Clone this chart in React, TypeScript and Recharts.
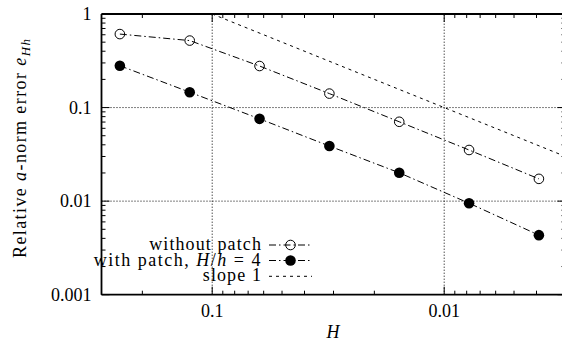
import React from 'react';
import { LineChart, Line, XAxis, YAxis, ReferenceLine, Customized } from 'recharts';

// Coarse mesh sizes H and the relative a-norm errors e_Hh
const meshSizes = [0.25, 0.125, 0.0625, 0.03125, 0.015625, 0.0078125, 0.00390625];
const errorsWithoutPatch = [0.61, 0.52, 0.278, 0.141, 0.0705, 0.0352, 0.0173];
const errorsWithPatch = [0.28, 0.146, 0.0758, 0.0388, 0.0201, 0.0095, 0.00433];

// Guide line of slope 1 (e = 10 H)
const slopeH = [0.1, 0.003];
const slopeErr = [1, 0.03];

// Axis ranges and ticks
const hDomain = [0.003, 0.3];
const errDomain = [0.001, 1];
const hMajorTicks = [0.1, 0.01];
const hMinorTicks = [
  0.3, 0.2,
  0.09, 0.08, 0.07, 0.06, 0.05, 0.04, 0.03, 0.02,
  0.009, 0.008, 0.007, 0.006, 0.005, 0.004, 0.003,
];
const errMajorTicks = [1, 0.1, 0.01, 0.001];
const errMinorTicks = [
  0.9, 0.8, 0.7, 0.6, 0.5, 0.4, 0.3, 0.2,
  0.09, 0.08, 0.07, 0.06, 0.05, 0.04, 0.03, 0.02,
  0.009, 0.008, 0.007, 0.006, 0.005, 0.004, 0.003, 0.002,
];
const gridH = [0.1, 0.01];
const gridErr = [0.1, 0.01];

const FONT = "'Liberation Serif', serif";
const FS = 18;
const MAJOR_LEN = 8;
const MINOR_LEN = 4;
const DASH_DOT = '7 3 1.5 3';
const SHORT_DASH = '3 4';
const DOTTED = '1 2';

const withoutPatchRows = meshSizes.map((H, i) => ({ H, err: errorsWithoutPatch[i] }));
const withPatchRows = meshSizes.map((H, i) => ({ H, err: errorsWithPatch[i] }));
const slopeRows = slopeH.map((H, i) => ({ H, err: slopeErr[i] }));

const hTicks = [...hMajorTicks, ...hMinorTicks];
const errTicks = [...errMajorTicks, ...errMinorTicks];

const fmt = (v: number) => String(v);
const textStyle = { fontFamily: FONT, fontSize: FS };

function BottomTick({ x, y, payload }: any) {
  const major = hMajorTicks.includes(payload.value);
  return (
    <g>
      <line x1={x} x2={x} y1={y} y2={y - (major ? MAJOR_LEN : MINOR_LEN)} stroke="#000" strokeWidth={1} />
      {major && (
        <text x={x} y={y + 22} textAnchor="middle" style={textStyle} fill="#000">
          {fmt(payload.value)}
        </text>
      )}
    </g>
  );
}

function TopTick({ x, y, payload }: any) {
  const major = hMajorTicks.includes(payload.value);
  return <line x1={x} x2={x} y1={y} y2={y + (major ? MAJOR_LEN : MINOR_LEN)} stroke="#000" strokeWidth={1} />;
}

function LeftTick({ x, y, payload }: any) {
  const major = errMajorTicks.includes(payload.value);
  return (
    <g>
      <line x1={x} x2={x + (major ? MAJOR_LEN : MINOR_LEN)} y1={y} y2={y} stroke="#000" strokeWidth={1} />
      {major && (
        <text x={x - 10} y={y + 6} textAnchor="end" style={textStyle} fill="#000">
          {fmt(payload.value)}
        </text>
      )}
    </g>
  );
}

function RightTick({ x, y, payload }: any) {
  const major = errMajorTicks.includes(payload.value);
  return <line x1={x} x2={x - (major ? MAJOR_LEN : MINOR_LEN)} y1={y} y2={y} stroke="#000" strokeWidth={1} />;
}

const OpenDot = (p: any) => (
  <circle key={`o-${p.index}`} cx={p.cx} cy={p.cy} r={4.8} fill="none" stroke="#000" strokeWidth={1} />
);
const FilledDot = (p: any) => (
  <circle key={`f-${p.index}`} cx={p.cx} cy={p.cy} r={5.3} fill="#000" stroke="none" />
);

function YTitle() {
  return (
    <text
      x={26}
      y={258}
      transform="rotate(-90 26 258)"
      textAnchor="start"
      style={{ ...textStyle, letterSpacing: 1.4 }}
      fill="#000"
    >
      Relative <tspan fontStyle="italic">a</tspan>-norm error <tspan fontStyle="italic">e</tspan>
      <tspan fontStyle="italic" fontSize={13} dy={4}>Hh</tspan>
    </text>
  );
}

function XTitle() {
  return (
    <text x={333} y={338} textAnchor="middle" style={textStyle} fontStyle="italic" fill="#000">
      H
    </text>
  );
}

// Key inside the plot, on an opaque white box
function KeyBox() {
  const textX = 262;
  const x1 = 269;
  const x2 = 312;
  const xm = 290.5;
  const rows = [245, 260.5, 276.3];
  const tp = { textAnchor: 'end' as const, fill: '#000' };
  return (
    <g>
      <rect x={107} y={235} width={210} height={51} fill="#fff" />
      <text x={textX} y={rows[0] + 5} style={{ ...textStyle, letterSpacing: 1.1 }} {...tp}>without patch</text>
      <line x1={x1} x2={x2} y1={rows[0]} y2={rows[0]} stroke="#000" strokeDasharray={DASH_DOT} />
      <circle cx={xm} cy={rows[0]} r={4.8} fill="none" stroke="#000" />
      <text x={textX} y={rows[1] + 5} style={{ ...textStyle, letterSpacing: 1.5 }} {...tp}>
        with patch, <tspan fontStyle="italic">H</tspan>/<tspan fontStyle="italic">h</tspan> = 4
      </text>
      <line x1={x1} x2={x2} y1={rows[1]} y2={rows[1]} stroke="#000" strokeDasharray={DASH_DOT} />
      <circle cx={xm} cy={rows[1]} r={5.3} fill="#000" />
      <text x={textX} y={rows[2] + 5} style={{ ...textStyle, letterSpacing: 1.1 }} {...tp}>slope 1</text>
      <line x1={x1} x2={x2} y1={rows[2]} y2={rows[2]} stroke="#000" strokeDasharray={SHORT_DASH} />
    </g>
  );
}

export default function App() {
  return (
    <div style={{ position: 'absolute', left: 0, top: 0, width: 562, height: 347, overflow: 'hidden', background: '#fff', fontFamily: FONT }}>
      <LineChart width={570} height={347} margin={{ top: 13, right: 3.5, bottom: 51.3, left: 100.5 }}>
        <XAxis
          xAxisId="b"
          dataKey="H"
          type="number"
          scale="log"
          domain={hDomain}
          allowDataOverflow
          reversed
          orientation="bottom"
          height={1}
          ticks={hTicks}
          interval={0}
          tickSize={0}
          tickMargin={0}
          tickLine={false}
          tick={BottomTick}
          axisLine={{ stroke: '#000', strokeWidth: 1.8 }}
          label={<XTitle />}
        />
        <XAxis
          xAxisId="t"
          dataKey="H"
          type="number"
          scale="log"
          domain={hDomain}
          allowDataOverflow
          reversed
          orientation="top"
          height={1}
          ticks={hTicks}
          interval={0}
          tickSize={0}
          tickMargin={0}
          tickLine={false}
          tick={TopTick}
          axisLine={{ stroke: '#000', strokeWidth: 1.8 }}
        />
        <YAxis
          yAxisId="l"
          type="number"
          scale="log"
          domain={errDomain}
          allowDataOverflow
          orientation="left"
          width={1}
          ticks={errTicks}
          interval={0}
          tickSize={0}
          tickMargin={0}
          tickLine={false}
          tick={LeftTick}
          axisLine={{ stroke: '#000', strokeWidth: 1.8 }}
          label={<YTitle />}
        />
        <YAxis
          yAxisId="r"
          type="number"
          scale="log"
          domain={errDomain}
          allowDataOverflow
          orientation="right"
          width={1}
          ticks={errTicks}
          interval={0}
          tickSize={0}
          tickMargin={0}
          tickLine={false}
          tick={RightTick}
          axisLine={{ stroke: '#000', strokeWidth: 1.8 }}
        />
        {gridH.map((v) => (
          <ReferenceLine key={`gx-${v}`} xAxisId="b" yAxisId="l" x={v} stroke="#000" strokeWidth={1} strokeDasharray={DOTTED} />
        ))}
        {gridErr.map((v) => (
          <ReferenceLine key={`gy-${v}`} xAxisId="b" yAxisId="l" y={v} stroke="#000" strokeWidth={1} strokeDasharray={DOTTED} />
        ))}
        <Line
          xAxisId="b"
          yAxisId="l"
          data={slopeRows}
          dataKey="err"
          name="slope 1"
          type="linear"
          stroke="#000"
          strokeWidth={1}
          strokeDasharray={SHORT_DASH}
          dot={false}
          activeDot={false}
          isAnimationActive={false}
        />
        <Line
          xAxisId="b"
          yAxisId="l"
          data={withoutPatchRows}
          dataKey="err"
          name="without patch"
          type="linear"
          stroke="#000"
          strokeWidth={1}
          strokeDasharray={DASH_DOT}
          dot={OpenDot}
          activeDot={false}
          isAnimationActive={false}
        />
        <Line
          xAxisId="b"
          yAxisId="l"
          data={withPatchRows}
          dataKey="err"
          name="with patch, H/h = 4"
          type="linear"
          stroke="#000"
          strokeWidth={1}
          strokeDasharray={DASH_DOT}
          dot={FilledDot}
          activeDot={false}
          isAnimationActive={false}
        />
        <Customized component={<KeyBox />} />
      </LineChart>
    </div>
  );
}
